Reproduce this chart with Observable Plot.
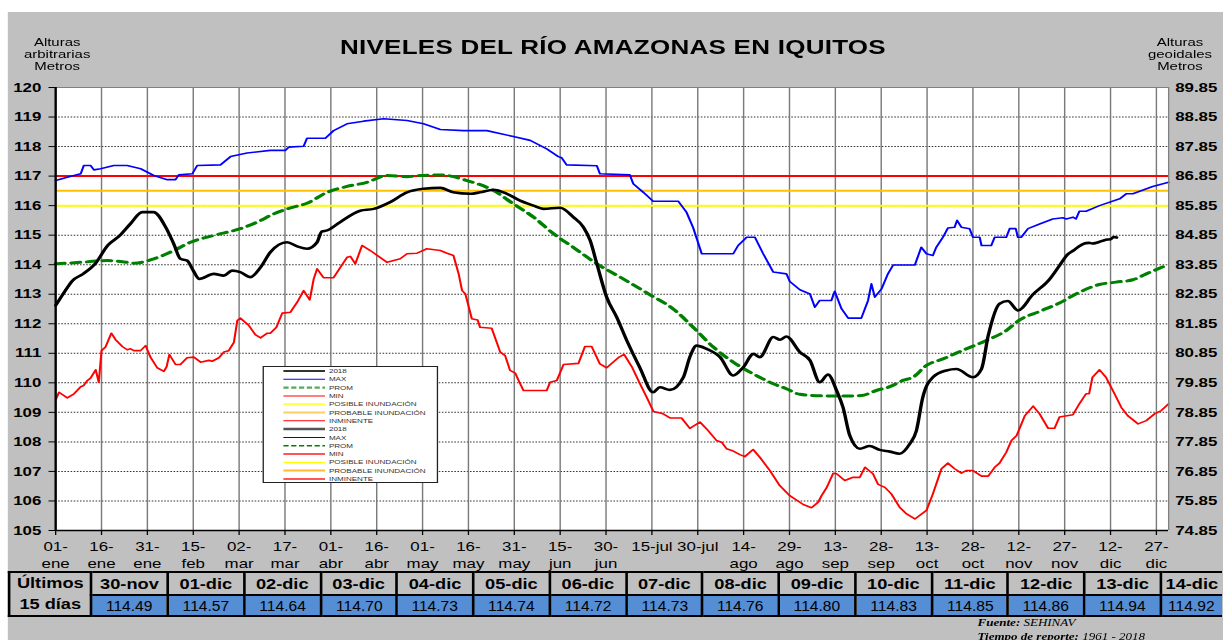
<!DOCTYPE html>
<html><head><meta charset="utf-8">
<script src="https://cdn.jsdelivr.net/npm/d3@7"></script>
<script src="https://cdn.jsdelivr.net/npm/@observablehq/plot@0.6"></script>
<style>
html,body{margin:0;padding:0;background:#fff;overflow:hidden;width:1223px;height:640px;}
#stage{position:absolute;left:0;top:0;width:940.77px;height:640px;transform:scaleX(1.3);transform-origin:0 0;font-family:Arial,"Liberation Sans",sans-serif;color:#000;}
#panel{position:absolute;left:6.15px;top:12px;width:940px;height:628px;background:#c0c0c0;}
#chart{position:absolute;left:0;top:0;}
.title{position:absolute;top:36px;left:1px;width:941px;text-align:center;font-weight:bold;font-size:20px;letter-spacing:0.2px;}
.ytitle{position:absolute;top:36px;width:80px;text-align:center;font-size:11.5px;line-height:12px;}
#legend{position:absolute;left:201.5px;top:366px;width:135px;height:117px;background:#fff;border:1.5px solid #222;box-sizing:border-box;}
#tbl{position:absolute;left:6.15px;top:571px;border-collapse:collapse;table-layout:fixed;}
#tbl td{border:2px solid #000;text-align:center;padding:0;overflow:hidden;white-space:nowrap;}
#tbl td.h{background:#c0c0c0;font-weight:bold;font-size:14px;height:20px;}
#tbl td.v{background:#558ed5;font-size:15px;height:18px;}
#tbl td.v span{display:inline-block;transform:scaleX(0.8);}
#tbl td.first{background:#c0c0c0;font-weight:bold;font-size:14px;line-height:21px;}
#tbl td.last{border-right:none;}
.foot{position:absolute;left:752px;font-family:"Liberation Serif","Times New Roman",serif;font-style:italic;font-size:10px;}
</style></head>
<body>
<div id="stage">
  <div id="panel"></div>
  <div id="chart"></div>
  <div class="title">NIVELES DEL RÍO AMAZONAS EN IQUITOS</div>
  <div class="ytitle" style="left:4px">Alturas<br>arbitrarias<br>Metros</div>
  <div class="ytitle" style="left:867.7px">Alturas<br>geoidales<br>Metros</div>
  <div id="legend"></div>
  <table id="tbl"></table>
  <div class="foot" style="top:617px"><b>Fuente:</b> SEHINAV</div>
  <div class="foot" style="top:631px"><b>Tiempo de reporte:</b> 1961 - 2018</div>
</div>
<script>
// ---- data (day of year) ----
const xTickDays = [1,16,31,46,61,76,91,106,121,136,151,166,181,196,211,226,241,256,271,286,301,316,331,346,361];
const xTickLabels = ["01-\nene","16-\nene","31-\nene","15-\nfeb","02-\nmar","17-\nmar","01-\nabr","16-\nabr","01-\nmay","16-\nmay","31-\nmay","15-\njun","30-\njun","15-jul","30-jul","14-\nago","29-\nago","13-\nsep","28-\nsep","13-\noct","28-\noct","12-\nnov","27-\nnov","12-\ndic","27-\ndic"];
const yTicks = [105,106,107,108,109,110,111,112,113,114,115,116,117,118,119,120];
const geoidOffset = 30.15;

const posible = 116.0, probable = 116.5, inminente = 117.0;

const days2018 = [1,4,6.5,10,14,18,22,25.5,29.3,33,37,39.6,41.8,44,46,48,52.7,56,58.7,61.4,64.7,68,71.2,76.7,80,83.2,86.5,88,89.8,94,100.6,105,110.4,115.9,121.3,126.8,131,136.6,139.8,144.2,148.6,152.9,157.3,160.5,166,170.3,173.6,175.8,178,181.2,184.5,187.8,192,196.4,198.6,201.9,206.3,208.4,210.6,213.9,218.3,222.6,225.9,229.2,231.3,235.7,237.9,240,244.4,247.7,250.9,253.6,256.4,258.5,260.7,264,267.2,270.5,273.8,277,280.3,282.5,284.6,287.9,292.3,295.6,301,303.8,306,309.7,312.4,315.7,320.6,326,329.3,332,334,335,336,337,338,339,340,341,342,343,344,345,346,347,348];
const vals2018 = [112.62,113.1,113.46,113.69,114.04,114.65,114.99,115.39,115.78,115.78,115.27,114.71,114.2,114.14,113.8,113.52,113.69,113.63,113.8,113.75,113.58,113.91,114.42,114.76,114.62,114.54,114.76,115.12,115.16,115.44,115.83,115.89,116.12,116.45,116.57,116.6,116.45,116.4,116.45,116.54,116.4,116.17,116.0,115.89,115.93,115.61,115.27,114.82,114.03,112.9,112.22,111.43,110.53,109.68,109.85,109.76,110.19,110.87,111.26,111.15,110.87,110.25,110.53,110.98,110.87,111.55,111.46,111.57,111.04,110.76,110.02,110.28,109.74,109.17,108.22,107.77,107.86,107.73,107.67,107.6,107.93,108.38,109.51,110.19,110.42,110.47,110.19,110.47,111.6,112.68,112.77,112.45,112.99,113.5,113.97,114.35,114.49,114.57,114.64,114.70,114.73,114.74,114.72,114.73,114.76,114.80,114.83,114.85,114.86,114.94,114.92];

const daysMax = [1,4.8,9.2,10.2,12.4,13.5,15.7,20,24.4,28.8,33.1,37.5,40.2,41.3,45.7,47.3,54.9,58.2,63.6,71.2,76.1,77.2,82.1,83.2,89.2,91.9,96.3,101.7,108.3,115.9,121.3,126.8,134.4,142,150.7,156.2,161.6,165.4,166.5,168.1,178,179,188.8,189.9,193.2,196.4,204.6,207.3,209.5,212.3,222.6,224.2,227,229.7,232.4,235.7,240,241.1,244.4,247.7,249.3,250.9,254.7,255.8,258,260.2,264.5,266.7,267.8,268.9,271.1,273.2,274.9,282,284.1,285.8,287.9,289,291.2,292.8,295,295.8,297.2,299.9,301,303.2,303.8,307,308.1,311.9,313,315,315.7,316.8,319,322.8,327.1,330.4,331.5,333.7,334.7,335.8,338,342.4,349,351.1,353.3,359.8,365];
const valsMax = [116.85,116.96,117.08,117.36,117.36,117.21,117.25,117.36,117.36,117.25,117.02,116.88,116.88,117.04,117.08,117.36,117.38,117.66,117.78,117.87,117.87,117.98,118.01,118.28,118.28,118.54,118.77,118.86,118.94,118.88,118.77,118.58,118.54,118.54,118.34,118.21,117.92,117.66,117.62,117.38,117.35,117.08,117.04,116.74,116.45,116.15,116.15,115.78,115.25,114.37,114.37,114.65,114.93,114.93,114.37,113.75,113.69,113.43,113.15,113.01,112.56,112.79,112.79,113.1,112.51,112.19,112.19,112.79,113.35,112.9,113.18,113.69,113.99,113.99,114.59,114.37,114.31,114.59,114.93,115.24,115.27,115.5,115.27,115.22,114.93,114.93,114.65,114.65,114.93,114.93,115.22,115.22,114.93,114.93,115.22,115.38,115.55,115.59,115.55,115.61,115.55,115.81,115.81,116.0,116.23,116.4,116.4,116.65,116.79];

const daysMin = [1,2.1,4.8,7,9.2,10.2,11.4,12.4,14.1,15.1,16,17.3,19.2,20.6,22.8,24.4,25.5,26.6,28.8,30.4,32,34.2,36.4,37.3,38.2,40.2,41.8,44,46.2,48.4,51.1,52.2,54.4,56,57.6,59.3,60.4,61.4,64.2,66.3,68,70.2,71.2,73.2,75.1,77.8,80,82.1,84.1,85.4,86.5,88.6,91.9,94.1,96.3,97.4,99,101.2,103.9,109.4,113.7,115.9,119.2,122.4,126.8,129,131.1,132.8,133.9,135,137.1,139,139.8,143.6,146.4,148,149.6,151.3,152.4,154,161.6,162.7,164.9,167.1,172,174.1,176.3,179,181.2,185,186.9,189.4,192.1,194.3,196.5,199.7,201.9,205.7,208.4,211.7,213.9,217.1,218.8,220.4,222.6,224.8,226.4,229.1,231.3,234.6,237.8,241.1,245.5,248.2,250.4,251.5,253.1,255.3,256.4,259.1,261.8,264,265.7,268.3,270,272.2,274.3,277,279.3,282,285.8,287.9,290.7,292.8,295,297.2,298.8,301,303.8,306,308.1,309.7,311.9,313.6,315.3,318,320.7,322.8,325.6,327.7,329.3,333.7,335.8,338,339,340.1,342.4,344.5,347.3,349.5,351.6,355,357.7,360.4,362.6,365];
const valsMin = [109.42,109.68,109.49,109.63,109.87,109.91,110.08,110.16,110.44,110.02,111.09,111.21,111.68,111.46,111.23,111.12,111.15,111.09,111.09,111.26,110.87,110.51,110.39,110.55,110.96,110.62,110.62,110.85,110.87,110.7,110.76,110.73,110.85,111.04,111.09,111.37,112.11,112.19,111.94,111.63,111.52,111.68,111.68,111.88,112.36,112.39,112.73,113.12,112.81,113.52,113.86,113.56,113.56,113.91,114.25,114.28,114.03,114.65,114.48,114.08,114.2,114.37,114.39,114.54,114.48,114.39,114.31,113.69,113.13,113.01,112.17,112.13,111.88,111.85,111.04,110.92,110.42,110.33,110.08,109.74,109.74,110.02,110.08,110.62,110.66,111.23,111.23,110.64,110.51,110.85,110.96,110.55,109.97,109.51,109.03,108.95,108.81,108.81,108.46,108.67,108.44,108.05,107.99,107.77,107.69,107.57,107.5,107.74,107.48,107.03,106.52,106.18,105.88,105.77,105.96,106.18,106.44,106.94,106.92,106.69,106.8,106.8,107.14,106.92,106.56,106.46,106.24,105.79,105.56,105.39,105.68,106.24,107.09,107.28,107.09,106.94,107.03,107.03,106.84,106.84,107.14,107.28,107.65,108.05,108.22,108.89,109.21,108.95,108.46,108.46,108.84,108.92,109.29,109.63,109.63,110.19,110.44,110.19,109.63,109.17,108.89,108.61,108.72,108.95,109.06,109.29];

const daysProm = [1,9.2,17.9,24.4,26.6,33.1,39.7,45.1,52.7,61.4,66.9,72.3,77,83.2,89.8,96.3,102.8,109.4,115.9,120.2,126.8,135.5,144.2,150.7,157.3,163.8,170.3,178,185.6,195.4,203,209.5,216.1,222.6,229.2,235.7,240,244.4,250.9,257.4,264.5,269.4,273.8,278.1,281.4,285.8,291.2,298.8,305.3,311.9,316.3,322.8,329.3,334.7,342.4,347.8,353.3,357.7,365];
const valsProm = [114.03,114.08,114.14,114.08,114.05,114.2,114.48,114.76,114.99,115.22,115.44,115.72,115.9,116.08,116.45,116.65,116.79,117.02,116.98,117.02,117.04,116.85,116.51,116.06,115.61,115.05,114.59,114.03,113.58,112.98,112.5,111.88,111.21,110.7,110.3,109.97,109.8,109.61,109.56,109.55,109.57,109.74,109.87,110.08,110.19,110.59,110.81,111.15,111.43,111.77,112.13,112.42,112.7,113.01,113.33,113.41,113.49,113.69,114.01];

const tableDates = ["30-nov","01-dic","02-dic","03-dic","04-dic","05-dic","06-dic","07-dic","08-dic","09-dic","10-dic","11-dic","12-dic","13-dic","14-dic"];
const tableValues = [114.49,114.57,114.64,114.70,114.73,114.74,114.72,114.73,114.76,114.80,114.83,114.85,114.86,114.94,114.92];

const legendLabels = ["2018","MAX","PROM","MIN","POSIBLE INUNDACIÓN","PROBABLE INUNDACIÓN","INMINENTE","2018","MAX","PROM","MIN","POSIBLE INUNDACIÓN","PROBABLE INUNDACIÓN","INMINENTE"];

// ---- chart ----
const S = 1.3, W = 1223 / S, xL = 55 / S, xR = 1168 / S;
const pts = (ds, vs) => ds.map((d, i) => ({day: d, v: vs[i]}));
const tickLabel = new Map(xTickDays.map((d, i) => [d, xTickLabels[i]]));

const chart = Plot.plot({
  width: W, height: 600,
  marginLeft: xL, marginRight: W - xR, marginTop: 87, marginBottom: 70,
  style: {background: "transparent", color: "#000", fontFamily: "Arial, 'Liberation Sans', sans-serif", maxWidth: "none", overflow: "visible"},
  x: {domain: [1, 365], axis: null},
  y: {domain: [105, 120], axis: null},
  marks: [
    Plot.frame({fill: "white", stroke: null}),
    Plot.gridY(yTicks, {stroke: "#333", strokeOpacity: 1, strokeDasharray: "1.2,1.2", strokeWidth: 1}),
    Plot.gridX(xTickDays, {stroke: "#7a7a7a", strokeOpacity: 1, strokeWidth: 1.1}),
    Plot.ruleY([posible], {stroke: "#ffff00", strokeWidth: 2}),
    Plot.ruleY([probable], {stroke: "#ffc000", strokeWidth: 2}),
    Plot.ruleY([inminente], {stroke: "#ff0000", strokeWidth: 2}),
    Plot.line(pts(daysMax, valsMax), {x: "day", y: "v", stroke: "#0000ff", strokeWidth: 1.6}),
    Plot.line(pts(daysMin, valsMin), {x: "day", y: "v", stroke: "#ff0000", strokeWidth: 1.6}),
    Plot.line(pts(daysProm, valsProm), {x: "day", y: "v", stroke: "#008000", strokeWidth: 3, strokeDasharray: "7,5", curve: "monotone-x"}),
    Plot.line(pts(days2018, vals2018), {x: "day", y: "v", stroke: "#000", strokeWidth: 2.6, curve: "monotone-x"}),
    Plot.ruleY([120], {stroke: "#808080", strokeWidth: 1}),
    Plot.ruleX([365], {stroke: "#808080", strokeWidth: 1}),
    Plot.ruleX([1], {stroke: "#000", strokeWidth: 1.8}),
    Plot.ruleY([105], {stroke: "#000", strokeWidth: 1.5}),
    Plot.axisY(yTicks, {anchor: "left", tickSize: 5, tickPadding: 6, fontSize: 13, fontWeight: "bold", label: null}),
    Plot.axisY(yTicks, {anchor: "right", tickSize: 0, tickPadding: 5, fontSize: 13, fontWeight: "bold", label: null, tickFormat: d => (d - geoidOffset).toFixed(2)}),
    Plot.axisX(xTickDays, {anchor: "bottom", tickSize: 5, tickPadding: 4, fontSize: 13, lineHeight: 1.3, label: null, tickFormat: d => tickLabel.get(d)})
  ]
});
document.getElementById("chart").appendChild(chart);

// ---- legend ----
const legendStyles = [
  {c: "#333", w: 2}, {c: "#0000ff", w: 1}, {c: "#5a5", w: 2.2, dash: "4,2"}, {c: "#ff0000", w: 1},
  {c: "#ffff00", w: 1.2}, {c: "#ffcc66", w: 2}, {c: "#ff0000", w: 1},
  {c: "#555", w: 2.5}, {c: "#0000ff", w: 1}, {c: "#008000", w: 1.4, dash: "4,2"}, {c: "#ff5555", w: 2},
  {c: "#ffff00", w: 1.2}, {c: "#ffbb33", w: 2}, {c: "#ff5555", w: 2}
];
const lg = d3.select("#legend").append("svg").attr("width", 133).attr("height", 115).style("display", "block");
legendLabels.forEach((lab, i) => {
  const y = 4 + i * 8.3;
  const st = legendStyles[i];
  lg.append("line").attr("x1", 15).attr("x2", 47).attr("y1", y).attr("y2", y)
    .attr("stroke", st.c).attr("stroke-width", st.w).attr("stroke-dasharray", st.dash || null);
  lg.append("text").attr("x", 50).attr("y", y + 2.2).attr("font-size", 6.2).attr("fill", "#333")
    .attr("font-family", "Arial, 'Liberation Sans', sans-serif").text(lab);
});

// ---- table ----
const tbl = d3.select("#tbl");
const colW = 76.4 / S, firstW = 82 / S, lastW = (1223 - 1161) / S;
const n = tableDates.length;
tbl.style("width", (firstW + (n - 1) * colW + lastW) + "px");
const r1 = tbl.append("tr");
r1.append("td").attr("class", "first").attr("rowspan", 2).style("width", (firstW - 2) + "px").html("Últimos<br>15 días");
tableDates.forEach((d, i) => r1.append("td").attr("class", i === n - 1 ? "h last" : "h")
  .style("width", ((i === n - 1 ? lastW : colW) - 2) + "px").text(d));
const r2 = tbl.append("tr");
tableValues.forEach((v, i) => r2.append("td").attr("class", i === n - 1 ? "v last" : "v")
  .append("span").text(v.toFixed(2)));
</script>
</body></html>
